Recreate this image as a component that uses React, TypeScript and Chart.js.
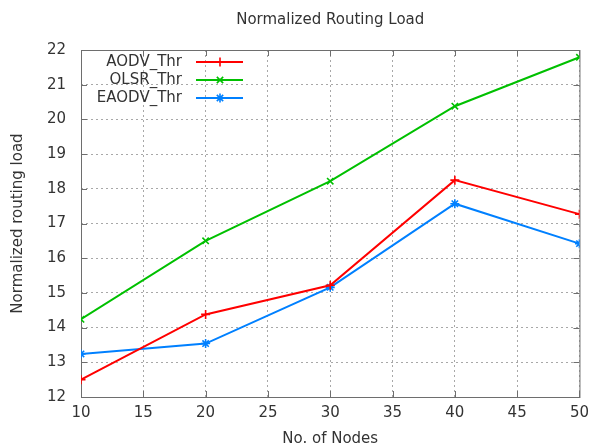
import React, { useEffect, useRef } from "react";
import { Chart, registerables } from "chart.js";
import { drawPoint } from "chart.js/helpers";

Chart.register(...registerables);

const nodes = [10, 20, 30, 40, 50];
const aodvThr = [12.5, 14.38, 15.22, 18.25, 17.27];
const olsrThr = [14.24, 16.5, 18.22, 20.38, 21.79];
const eaodvThr = [13.24, 13.54, 15.16, 17.57, 16.42];
const seriesNames = ["AODV_Thr", "OLSR_Thr", "EAODV_Thr"];
const chartTitle = "Normalized Routing Load";
const xTitle = "No. of Nodes";
const yTitle = "Normalized routing load";

const FONT = "'DejaVu Sans', sans-serif";
const FS = 15;
const TEXT = "#333333";
const BORDER = "#6e6e6e";

const gnuplotPlugin = {
  id: "gnuplotDecor",
  beforeDatasetsDraw(chart: any) {
    const { ctx, chartArea: a, scales } = chart;
    ctx.save();
    ctx.strokeStyle = BORDER;
    ctx.lineWidth = 1;
    ctx.setLineDash([]);
    ctx.strokeRect(a.left + 0.5, a.top + 0.5, a.right - a.left, a.bottom - a.top);
    const tl = 6;
    ctx.beginPath();
    scales.x.ticks.forEach((t: any) => {
      const px = Math.round(scales.x.getPixelForValue(t.value)) + 0.5;
      ctx.moveTo(px, a.bottom);
      ctx.lineTo(px, a.bottom - tl);
      ctx.moveTo(px, a.top);
      ctx.lineTo(px, a.top + tl);
    });
    scales.y.ticks.forEach((t: any) => {
      const py = Math.round(scales.y.getPixelForValue(t.value)) + 0.5;
      ctx.moveTo(a.left, py);
      ctx.lineTo(a.left + tl, py);
      ctx.moveTo(a.right, py);
      ctx.lineTo(a.right - tl, py);
    });
    ctx.stroke();
    ctx.restore();
  },
  afterDraw(chart: any) {
    const { ctx, chartArea: a } = chart;
    ctx.save();
    ctx.fillStyle = TEXT;
    ctx.font = `${FS}px ${FONT}`;
    ctx.textAlign = "center";
    ctx.textBaseline = "middle";
    ctx.fillText(chartTitle, (a.left + a.right) / 2, 20);
    chart.data.datasets.forEach((ds: any, i: number) => {
      const y = a.top + 12 + i * 18;
      ctx.fillStyle = TEXT;
      ctx.textAlign = "right";
      ctx.fillText(ds.label, a.left + 101, y);
      ctx.strokeStyle = ds.borderColor;
      ctx.lineWidth = 2;
      ctx.beginPath();
      ctx.moveTo(a.left + 115, y);
      ctx.lineTo(a.left + 162, y);
      ctx.stroke();
      ctx.lineWidth = ds.pointBorderWidth;
      ctx.fillStyle = ds.borderColor;
      drawPoint(ctx, { pointStyle: ds.pointStyle, radius: ds.pointRadius, rotation: 0, borderWidth: ds.pointBorderWidth }, a.left + 139, y);
    });
    ctx.restore();
  },
};

export default function App() {
  const ref = useRef<HTMLCanvasElement>(null);
  useEffect(() => {
    const mk = (label: string, vals: number[], color: string, style: string) => ({
      label,
      data: nodes.map((x, i) => ({ x, y: vals[i] })),
      borderColor: color,
      backgroundColor: color,
      borderWidth: 2,
      pointStyle: style,
      pointRadius: 4.5,
      pointBorderWidth: 1.6,
      pointBorderColor: color,
      pointBackgroundColor: color,
      tension: 0,
    });
    const chart = new Chart(ref.current!, {
      type: "line",
      data: {
        datasets: [
          mk(seriesNames[0], aodvThr, "#ff0000", "cross"),
          mk(seriesNames[1], olsrThr, "#00c000", "crossRot"),
          mk(seriesNames[2], eaodvThr, "#0080ff", "star"),
        ],
      },
      options: {
        responsive: false,
        animation: false,
        devicePixelRatio: 1,
        layout: { padding: { left: 0, right: 10, top: 50, bottom: 0 } },
        plugins: { legend: { display: false }, title: { display: false }, tooltip: { enabled: false } },
        scales: {
          x: {
            type: "linear",
            min: 10,
            max: 50,
            ticks: { stepSize: 5, color: TEXT, font: { family: FONT, size: FS }, padding: 7 },
            grid: { color: "#a8a8a8", lineWidth: 1, drawTicks: false },
            border: { display: false, dash: [2, 3] },
            title: { display: true, text: xTitle, color: TEXT, font: { family: FONT, size: FS }, padding: { top: 0, bottom: 0 } },
            afterFit: (s: any) => { s.height = 51; },
          },
          y: {
            type: "linear",
            min: 12,
            max: 22,
            ticks: { stepSize: 1, color: TEXT, font: { family: FONT, size: FS }, padding: 15 },
            grid: { color: "#a8a8a8", lineWidth: 1, drawTicks: false },
            border: { display: false, dash: [2, 3] },
            title: { display: true, text: yTitle, color: TEXT, font: { family: FONT, size: FS }, padding: { top: 9, bottom: 0 } },
            afterFit: (s: any) => { s.width = 81; },
          },
        },
      },
      plugins: [gnuplotPlugin],
    } as any);
    return () => chart.destroy();
  }, []);
  return (
    <div style={{ position: "absolute", left: 0, top: 0, width: 596, height: 448, background: "#fff" }}>
      <canvas ref={ref} width={596} height={448} />
    </div>
  );
}
